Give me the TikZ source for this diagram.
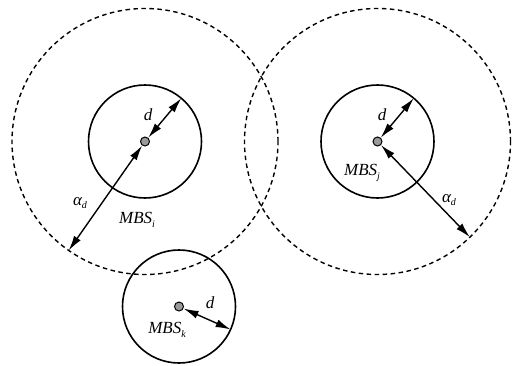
\documentclass[tikz,border=0pt]{standalone}
\usepackage{fontspec}
\setmainfont{Liberation Serif}
\usetikzlibrary{arrows.meta,calc}
\newcommand\lbl[2]{\textit{#1}\raisebox{-0.45ex}{\fontsize{10}{10}\selectfont\textit{#2}}}
\begin{document}
\begin{tikzpicture}[x=1pt,y=1pt,
  coverage/.style={draw,dash pattern=on 4.5pt off 3.5pt,line width=1.4pt},
  txrange/.style={draw,line width=1.6pt},
  station/.style={circle,draw,line width=1pt,fill=gray!80,minimum size=9pt,inner sep=0pt},
  dim/.style={{Latex[length=15pt,width=8pt]}-{Latex[length=15pt,width=8pt]},line width=1.4pt},
  txt/.style={font=\fontsize{17}{19}\selectfont\itshape,inner sep=0pt}]
\useasboundingbox (0,0) rectangle (513,365);
% station positions
\coordinate (pi) at (145,223.5);
\coordinate (pj) at (377.5,223.5);
\coordinate (pk) at (179,58.5);
% coverage areas (dashed) and transmission ranges (solid)
\draw[coverage] (pi) circle (133);
\draw[coverage] (pj) circle (133);
\draw[txrange] (pi) circle (56.5);
\draw[txrange] (pj) circle (56.5);
\draw[txrange] (pk) circle (56.5);
% stations
\node[station] (si) at (pi) {};
\node[station] (sj) at (pj) {};
\node[station] (sk) at (pk) {};
% end points of the radius markers
\coordinate (di) at ($(pi)+(50:56.5)$);
\coordinate (ai) at ($(pi)+(235:133)$);
\coordinate (dj) at ($(pj)+(50:56.5)$);
\coordinate (aj) at ($(pj)+(-46:133)$);
\coordinate (dk) at ($(pk)+(-24:56.5)$);
\draw[dim] (si) -- (di);
\draw[dim] (si) -- (ai);
\draw[dim] (sj) -- (dj);
\draw[dim] (sj) -- (aj);
\draw[dim] (sk) -- (dk);
% labels
\node[txt] (ldi) at (148,250) {d};
\node[txt] (lai) at (80,162) {\lbl{α}{d}};
\node[txt] (lmi) at (137,145) {\lbl{MBS}{i}};
\node[txt] (ldj) at (382,250) {d};
\node[txt] (laj) at (449,165) {\lbl{α}{d}};
\node[txt] (lmj) at (362,192) {\lbl{MBS}{j}};
\node[txt] (ldk) at (210,62) {d};
\node[txt] (lmk) at (167,35) {\lbl{MBS}{k}};
\end{tikzpicture}
\end{document}
